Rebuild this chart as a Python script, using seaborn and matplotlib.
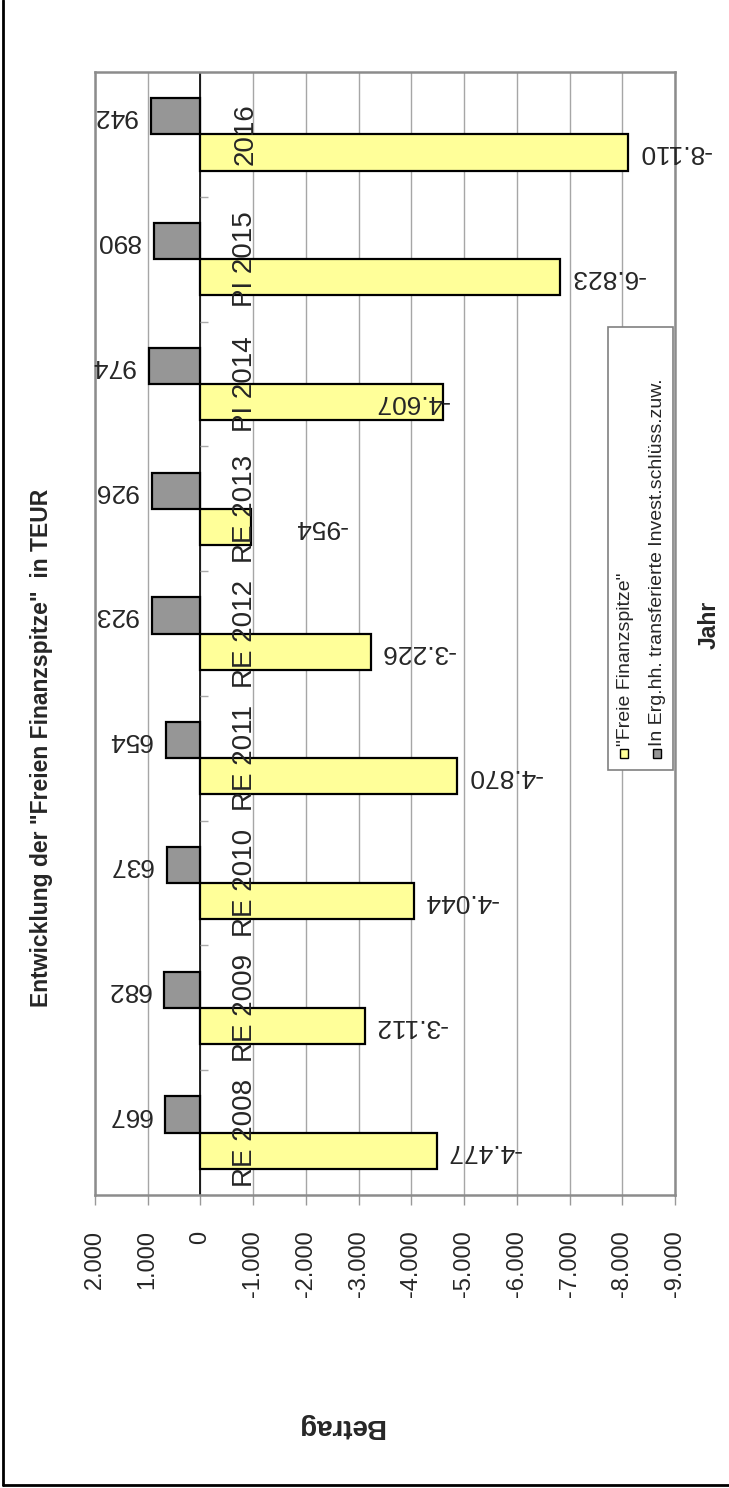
import matplotlib
matplotlib.use("Agg")
import matplotlib.pyplot as plt
import pandas as pd
import seaborn as sns
from matplotlib.patches import Rectangle
from matplotlib.lines import Line2D

# ---- data -------------------------------------------------------------
categories = ["RE 2008", "RE 2009", "RE 2010", "RE 2011", "RE 2012",
              "RE 2013", "PI 2014", "PI 2015", "2016"]
freie_finanzspitze = [-4477, -3112, -4044, -4870, -3226, -954, -4607, -6823, -8110]
invest_zuweisungen = [667, 682, 637, 654, 923, 926, 974, 890, 942]
series_names = ['"Freie Finanzspitze"',
                "In Erg.hh. transferierte Invest.schlüss.zuw."]
value_ticks = list(range(2000, -10000, -1000))

title_text = 'Entwicklung der "Freien Finanzspitze"  in TEUR'
category_axis_title = "Jahr"
value_axis_title = "Betrag"

# ---- style ------------------------------------------------------------
sns.set_theme(style="white")
plt.rcParams["font.family"] = ["Liberation Sans", "DejaVu Sans"]

colors = {series_names[0]: "#FFFF99", series_names[1]: "#969696"}
label_nudge_px = {"RE 2013": 33, "PI 2014": -79}

W, H = 729, 1488
fig = plt.figure(figsize=(W / 100, H / 100), dpi=100)
fig.patch.set_facecolor("white")


def fx(px):
    return px / W


def fy(py):
    return 1 - py / H


def fmt(v):
    return f"{v:,}".replace(",", ".")


ax = fig.add_axes([fx(95), fy(1195), fx(675) - fx(95), fy(72) - fy(1195)])

df = pd.DataFrame({
    "Jahr": categories * 2,
    "Serie": [series_names[0]] * len(categories) + [series_names[1]] * len(categories),
    "Betrag": freie_finanzspitze + invest_zuweisungen,
})
order = categories[::-1]
hue_order = [series_names[1], series_names[0]]

sns.barplot(data=df, y="Jahr", x="Betrag", hue="Serie", order=order,
            hue_order=hue_order, palette=colors, orient="h", width=0.58,
            gap=0, edgecolor="black", linewidth=1.6, saturation=1,
            errorbar=None, legend=False, ax=ax, zorder=3)

ax.set_xlim(2000, -9000)
ax.set_ylim(len(categories) - 0.5, -0.5)
ax.set_xticks(value_ticks)
ax.set_xticklabels([fmt(v) for v in value_ticks], rotation=90, fontsize=17)
ax.tick_params(axis="x", direction="out", length=7.5, width=1, color="#999999",
               pad=18, bottom=True)
ax.tick_params(axis="y", left=False, labelleft=False)
ax.set_xlabel("")
ax.set_ylabel("")
ax.xaxis.grid(True, color="#a6a6a6", linewidth=1)
ax.yaxis.grid(False)
ax.set_axisbelow(True)
ax.axvline(0, color="black", linewidth=1.2, zorder=2)
for s in ax.spines.values():
    s.set_color("#8c8c8c")
    s.set_linewidth(1.8)

# small category separators on the zero line
ax.hlines([i - 0.5 for i in range(len(categories) + 1)], 0, -150,
          color="#aaaaaa", linewidth=1, zorder=2)

# category labels inside the plot
for i, cat in enumerate(order):
    ax.annotate(cat, xy=(-1000, i), xytext=(5, 0), textcoords="offset pixels",
                rotation=90, ha="right", va="center", fontsize=20, zorder=5)

# value labels (upside down, as in the source layout)
invest_bars, freie_bars = ax.containers[0], ax.containers[1]
for cat, bar in zip(order, freie_bars):
    v = bar.get_x() + bar.get_width()
    yc = bar.get_y() + bar.get_height() / 2
    ax.annotate(fmt(int(round(v))), xy=(v, yc),
                xytext=(10 + label_nudge_px.get(cat, 0), 0),
                textcoords="offset pixels", rotation=180, ha="left",
                va="center", fontsize=19, zorder=6, annotation_clip=False)
for cat, bar in zip(order, invest_bars):
    v = bar.get_x() + bar.get_width()
    yc = bar.get_y() + bar.get_height() / 2
    ax.annotate(fmt(int(round(v))), xy=(v, yc), xytext=(-14, 0),
                textcoords="offset pixels", rotation=180, ha="right",
                va="center", fontsize=19, zorder=6, annotation_clip=False)

# legend box (rotated layout)
fig.add_artist(Rectangle((fx(608), fy(770)), fx(673) - fx(608), fy(327) - fy(770),
                         transform=fig.transFigure, facecolor="white",
                         edgecolor="#808080", linewidth=1.2, zorder=10))
for name, cx in zip(series_names, [624, 657]):
    fig.add_artist(Rectangle((fx(cx - 4), fy(758)), fx(8), fy(749) - fy(758),
                             transform=fig.transFigure, facecolor=colors[name],
                             edgecolor="black", linewidth=1, zorder=11))
    fig.text(fx(cx + 1), fy(746), name, rotation=90, ha="center", va="bottom",
             fontsize=14, zorder=11)

# titles
fig.text(fx(42), fy(748), title_text, rotation=90, ha="center", va="center",
         fontsize=16.5, fontweight="bold")
fig.text(fx(709), fy(625), category_axis_title, rotation=90, ha="center",
         va="center", fontsize=16.5, fontweight="bold")
fig.text(fx(340), fy(1426), value_axis_title, rotation=180, ha="center",
         va="center", fontsize=20, fontweight="bold")

# chart area frame (left and bottom edges)
fig.add_artist(Line2D([fx(3), fx(3)], [fy(0), fy(1485)], color="black",
                      linewidth=2, transform=fig.transFigure))
fig.add_artist(Line2D([fx(3), fx(729)], [fy(1485), fy(1485)], color="black",
                      linewidth=2, transform=fig.transFigure))

fig.savefig("out.png", dpi=100, facecolor="white")
